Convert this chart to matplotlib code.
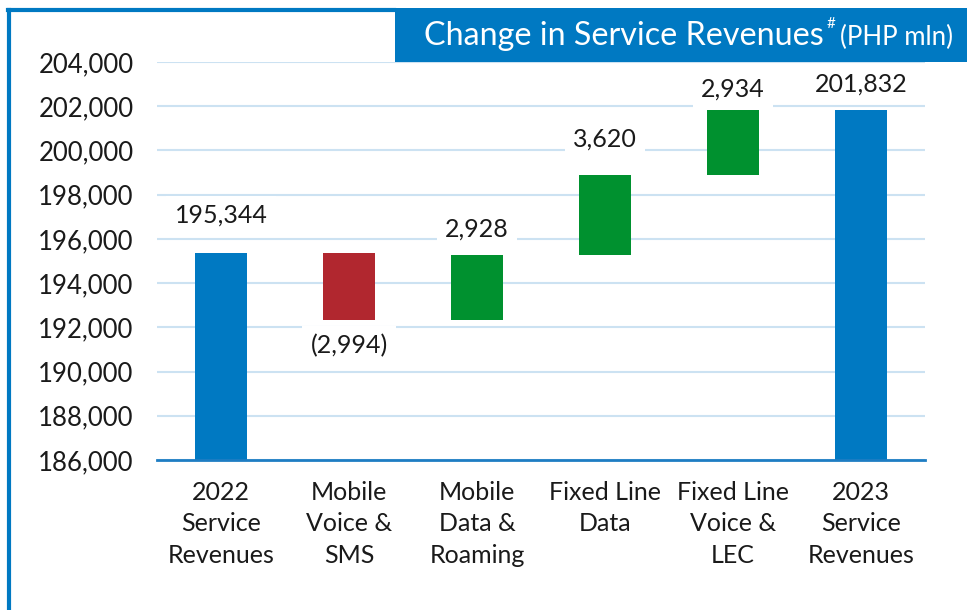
import matplotlib
matplotlib.use("Agg")
import matplotlib.pyplot as plt
from matplotlib.patches import Rectangle
from matplotlib.lines import Line2D

plt.rcParams['font.family'] = ['Lato', 'DejaVu Sans']

categories = ["2022\nService\nRevenues", "Mobile\nVoice &\nSMS", "Mobile\nData &\nRoaming",
              "Fixed Line\nData", "Fixed Line\nVoice &\nLEC", "2023\nService\nRevenues"]
start_total = 195344
changes = [-2994, 2928, 3620, 2934]
end_total = 201832
value_labels = ["195,344", "(2,994)", "2,928", "3,620", "2,934", "201,832"]
yticks = list(range(186000, 204001, 2000))

BLUE = "#0079C2"
RED = "#B1272F"
GREEN = "#00912F"
GRID = "#CCE2F2"

fig = plt.figure(figsize=(9.67, 6.10), dpi=100)
ax = fig.add_axes([157/967, 150/610, 768/967, 398/610])

ymin = 186000
bottoms, heights, colors = [], [], []
bottoms.append(ymin); heights.append(start_total - ymin); colors.append(BLUE)
running = start_total
for c in changes:
    if c < 0:
        bottoms.append(running + c); heights.append(-c); colors.append(RED)
    else:
        bottoms.append(running); heights.append(c); colors.append(GREEN)
    running += c
bottoms.append(ymin); heights.append(end_total - ymin); colors.append(BLUE)

x = list(range(len(categories)))
ax.bar(x, heights, bottom=bottoms, width=0.405, color=colors, zorder=3)

ax.set_xlim(-0.5, 5.5)
ax.set_ylim(186000, 204000)
ax.set_yticks(yticks)
ax.set_yticklabels([f"{v:,}" for v in yticks], fontsize=18.5, color="#1a1a1a")
ax.set_xticks(x)
ax.set_xticklabels(categories, fontsize=18, color="#1a1a1a", linespacing=1.45)
ax.tick_params(axis='both', length=0)
ax.tick_params(axis='y', pad=17)
ax.tick_params(axis='x', pad=15)
ax.grid(axis='y', color=GRID, linewidth=1.5, zorder=0)
for s in ['top', 'right', 'left']:
    ax.spines[s].set_visible(False)
ax.spines['bottom'].set_color("#1E7DC3")
ax.spines['bottom'].set_linewidth(2)
ax.spines['bottom'].set_zorder(4)

# value labels (baseline offsets in points)
offsets = [22, -24.5, 13, 20, 9.5, 13]
for i in range(len(categories)):
    top = bottoms[i] + heights[i]
    ypos = bottoms[i] if i == 1 else top
    ax.annotate(value_labels[i], xy=(i, ypos), xytext=(0, offsets[i]),
                textcoords='offset points', ha='center', va='baseline', fontsize=18,
                color="#1a1a1a", zorder=5,
                bbox=dict(facecolor='white', edgecolor='none', pad=6))

# frame lines
fig.add_artist(Line2D([9/967, 9/967], [0, 1 - 10/610], color=BLUE, linewidth=3))
fig.add_artist(Line2D([8/967, 394/967], [1 - 10/610, 1 - 10/610], color=BLUE, linewidth=3))
# title box
fig.add_artist(Rectangle((395/967, 1 - 62/610), (967 - 395)/967, 54/610,
                         transform=fig.transFigure, facecolor=BLUE, edgecolor='none'))
t1 = fig.text(424/967, 1 - 45/610, "Change in Service Revenues", color='white',
              fontsize=23.2, ha='left', va='baseline')
fig.canvas.draw()
r = fig.canvas.get_renderer()
bb = t1.get_window_extent(r)
fig.text((bb.x1 + 3) / fig.bbox.width, 1 - 28/610, "#", color='white', fontsize=11,
         ha='left', va='baseline')
fig.text(953/967, 1 - 45/610, "(PHP mln)", color='white',
         fontsize=18.5, ha='right', va='baseline')

fig.savefig("out.png", dpi=100)
